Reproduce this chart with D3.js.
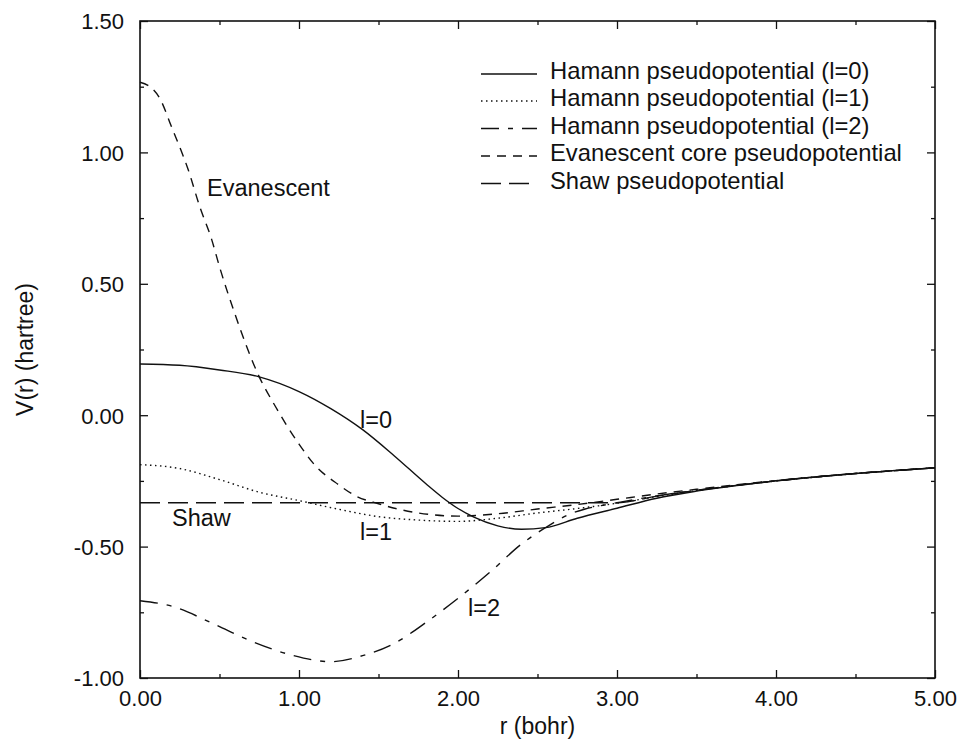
<!DOCTYPE html>
<html>
<head>
<meta charset="utf-8">
<script src="https://cdn.jsdelivr.net/npm/d3@7"></script>
<style>
  html, body { margin: 0; padding: 0; background: #fff; }
  svg { display: block; }
  text { font-family: "Liberation Sans", Arial, Helvetica, sans-serif; fill: #111; }
</style>
</head>
<body>
<script>
// ---------- data ----------
const xTickValues = [0, 1, 2, 3, 4, 5];
const xMinorTicks = [0.5, 1.5, 2.5, 3.5, 4.5];
const yTickValues = [-1.0, -0.5, 0.0, 0.5, 1.0, 1.5];
const yMinorTicks = [-0.75, -0.25, 0.25, 0.75, 1.25];

const hamann0R = [0, 0.25, 0.5, 0.75, 1.0, 1.2, 1.4, 1.6, 1.8, 1.9, 2.0, 2.1, 2.25, 2.4, 2.55, 2.75, 3.0, 3.25, 3.5, 4.0, 4.5, 5.0];
const hamann0V = [0.195, 0.19, 0.172, 0.146, 0.09, 0.025, -0.055, -0.155, -0.262, -0.312, -0.355, -0.388, -0.421, -0.434, -0.428, -0.392, -0.354, -0.316, -0.289, -0.25, -0.222, -0.2];

const hamann1R = [0, 0.25, 0.5, 0.75, 1.0, 1.25, 1.5, 1.75, 2.0, 2.25, 2.5, 2.75, 3.0, 3.25, 3.5, 4.0, 4.5, 5.0];
const hamann1V = [-0.188, -0.203, -0.245, -0.293, -0.325, -0.358, -0.386, -0.399, -0.404, -0.392, -0.372, -0.355, -0.335, -0.31, -0.287, -0.25, -0.222, -0.2];

const hamann2R = [0, 0.2, 0.45, 0.7, 0.95, 1.2, 1.4, 1.6, 1.8, 2.0, 2.2, 2.4, 2.55, 2.7, 2.8, 2.9, 3.0, 3.25, 3.5, 4.0, 4.5, 5.0];
const hamann2V = [-0.706, -0.727, -0.79, -0.86, -0.912, -0.938, -0.915, -0.868, -0.788, -0.697, -0.598, -0.49, -0.428, -0.377, -0.357, -0.344, -0.333, -0.307, -0.286, -0.25, -0.222, -0.2];

const evanescentR = [0, 0.05, 0.125, 0.2, 0.25, 0.3, 0.375, 0.45, 0.5, 0.6, 0.75, 0.85, 1.0, 1.1, 1.25, 1.35, 1.5, 1.75, 2.0, 2.25, 2.5, 2.75, 3.0, 3.25, 3.5, 3.75, 4.0, 4.5, 5.0];
const evanescentV = [1.267, 1.255, 1.205, 1.095, 1.02, 0.94, 0.795, 0.67, 0.565, 0.38, 0.146, 0.035, -0.11, -0.19, -0.265, -0.305, -0.337, -0.372, -0.384, -0.375, -0.357, -0.34, -0.32, -0.3, -0.282, -0.265, -0.249, -0.222, -0.2];

const shawR = [0, 1.0, 2.0, 3.0, 3.25, 3.5, 3.75, 4.0, 4.25, 4.5, 4.75, 5.0];
const shawV = [-0.333, -0.333, -0.333, -0.333, -0.308, -0.286, -0.267, -0.25, -0.235, -0.222, -0.211, -0.2];

const legendLabels = [
  "Hamann pseudopotential (l=0)",
  "Hamann pseudopotential (l=1)",
  "Hamann pseudopotential (l=2)",
  "Evanescent core pseudopotential",
  "Shaw pseudopotential"
];
const curveLabels = ["l=0", "l=1", "l=2", "Evanescent", "Shaw"];

// ---------- layout / styles ----------
const W = 960, H = 740;
const plot = { left: 140, right: 935, top: 21, bottom: 678 };
const dashes = ["none", "1.5,3.5", "18,9,5,9", "9,7", "20,8"];
const labelPos = [
  { x: 360, y: 428 }, { x: 360, y: 540 }, { x: 468, y: 616 },
  { x: 207, y: 196 }, { x: 172, y: 526 }
];

const series = [
  { r: hamann0R, v: hamann0V },
  { r: hamann1R, v: hamann1V },
  { r: hamann2R, v: hamann2V },
  { r: evanescentR, v: evanescentV },
  { r: shawR, v: shawV }
].map((s, i) => ({
  name: legendLabels[i],
  label: curveLabels[i],
  dash: dashes[i],
  points: s.r.map((r, j) => [r, s.v[j]])
}));

const svg = d3.select("body").append("svg").attr("width", W).attr("height", H);

const x = d3.scaleLinear().domain([0, 5]).range([plot.left, plot.right]);
const y = d3.scaleLinear().domain([-1, 1.5]).range([plot.bottom, plot.top]);

const f2 = d3.format(".2f");
const fmt = d => f2(d).replace("\u2212", "-");
const tickFont = "22px";

// bottom axis (major + minor)
svg.append("g").attr("transform", `translate(0,${plot.bottom})`)
  .call(d3.axisBottom(x).tickValues(xTickValues).tickFormat(fmt)
    .tickSizeInner(-8).tickSizeOuter(0).tickPadding(12));
svg.append("g").attr("transform", `translate(0,${plot.bottom})`)
  .call(d3.axisBottom(x).tickValues(xMinorTicks).tickFormat("")
    .tickSizeInner(-4).tickSizeOuter(0));
// top axis ticks
svg.append("g").attr("transform", `translate(0,${plot.top})`)
  .call(d3.axisTop(x).tickValues(xTickValues).tickFormat("").tickSizeInner(-8).tickSizeOuter(0));
svg.append("g").attr("transform", `translate(0,${plot.top})`)
  .call(d3.axisTop(x).tickValues(xMinorTicks).tickFormat("").tickSizeInner(-4).tickSizeOuter(0));
// left axis
const gL = svg.append("g").attr("transform", `translate(${plot.left},0)`)
  .call(d3.axisLeft(y).tickValues(yTickValues).tickFormat(fmt)
    .tickSizeInner(-8).tickSizeOuter(0).tickPadding(16));
svg.append("g").attr("transform", `translate(${plot.left},0)`)
  .call(d3.axisLeft(y).tickValues(yMinorTicks).tickFormat("").tickSizeInner(-4).tickSizeOuter(0));
// right axis ticks
svg.append("g").attr("transform", `translate(${plot.right},0)`)
  .call(d3.axisRight(y).tickValues(yTickValues).tickFormat("").tickSizeInner(-8).tickSizeOuter(0));
svg.append("g").attr("transform", `translate(${plot.right},0)`)
  .call(d3.axisRight(y).tickValues(yMinorTicks).tickFormat("").tickSizeInner(-4).tickSizeOuter(0));

svg.selectAll(".domain").remove();
svg.selectAll(".tick line").attr("stroke", "#111").attr("stroke-width", 1.3);
svg.selectAll(".tick text").style("font-size", tickFont).attr("fill", "#111")
  .style("font-family", "'Liberation Sans', Arial, sans-serif");
gL.selectAll(".tick text").attr("dy", "0.36em");

// frame
svg.append("rect")
  .attr("x", plot.left).attr("y", plot.top)
  .attr("width", plot.right - plot.left).attr("height", plot.bottom - plot.top)
  .attr("fill", "none").attr("stroke", "#111").attr("stroke-width", 1.6);

// curves
const line = d3.line().x(d => x(d[0])).y(d => y(d[1])).curve(d3.curveMonotoneX);
svg.append("g").selectAll("path").data(series).join("path")
  .attr("d", d => line(d.points))
  .attr("fill", "none")
  .attr("stroke", "#111")
  .attr("stroke-width", 1.4)
  .attr("stroke-dasharray", d => d.dash === "none" ? null : d.dash);

// curve labels
svg.append("g").selectAll("text").data(series).join("text")
  .attr("x", (d, i) => labelPos[i].x)
  .attr("y", (d, i) => labelPos[i].y)
  .style("font-size", "23.5px")
  .text(d => d.label);

// legend
const lg = svg.append("g");
const rowY = [71, 98, 125.5, 153, 180.5];
series.forEach((s, i) => {
  lg.append("line")
    .attr("x1", 481).attr("x2", 537)
    .attr("y1", rowY[i] + 3).attr("y2", rowY[i] + 3)
    .attr("stroke", "#111").attr("stroke-width", 1.4)
    .attr("stroke-dasharray", s.dash === "none" ? null : s.dash);
  lg.append("text")
    .attr("x", 550).attr("y", rowY[i] + 8.4)
    .style("font-size", "23.8px")
    .text(s.name);
});

// axis titles
svg.append("text")
  .attr("x", (plot.left + plot.right) / 2).attr("y", 734)
  .attr("text-anchor", "middle").style("font-size", "23px")
  .text("r (bohr)");
svg.append("text")
  .attr("transform", `translate(33,${(plot.top + plot.bottom) / 2}) rotate(-90)`)
  .attr("text-anchor", "middle").style("font-size", "23px")
  .text("V(r) (hartree)");
</script>
</body>
</html>
